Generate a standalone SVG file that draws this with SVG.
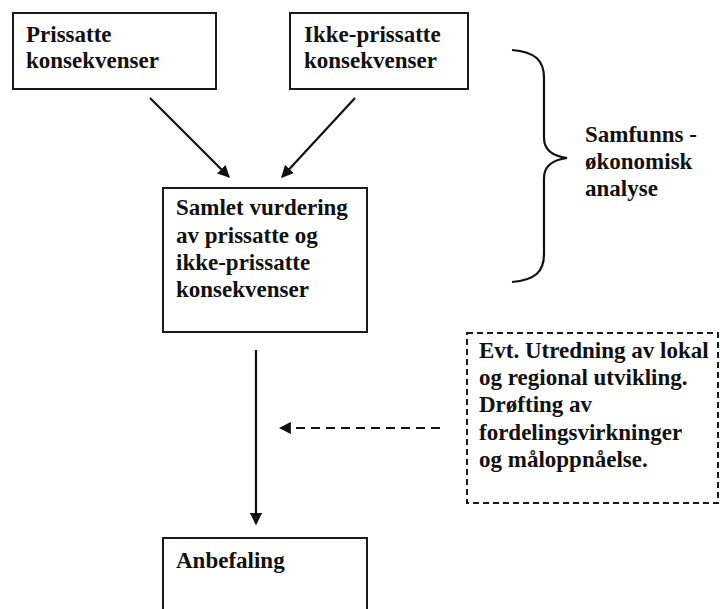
<svg xmlns="http://www.w3.org/2000/svg" width="720" height="609" viewBox="0 0 720 609">
<defs>
<style>
.box{fill:#fff;stroke:#1a1a1a;stroke-width:2}
.dbox{fill:#fff;stroke:#1a1a1a;stroke-width:2;stroke-dasharray:6,4}
.t{font-family:"Liberation Serif","Times New Roman",serif;font-weight:bold;font-size:23px;fill:#111}
.ln{stroke:#111;stroke-width:2.2;fill:none}
.dl{stroke:#111;stroke-width:2.2;fill:none;stroke-dasharray:9,6}
</style>
<marker id="ah" viewBox="0 0 10 10" refX="9" refY="5" markerWidth="5.5" markerHeight="5.5" orient="auto">
<path d="M0,0 L10,5 L0,10 z" fill="#111"/>
</marker>
</defs>
<rect width="720" height="609" fill="#fff"/>
<g id="n1"><rect class="box" x="13" y="13" width="203" height="76"/>
<text class="t" x="26" y="42">Prissatte</text><text class="t" x="26" y="68">konsekvenser</text></g>
<g id="n2"><rect class="box" x="290" y="13" width="178" height="76"/>
<text class="t" x="304" y="42">Ikke-prissatte</text><text class="t" x="304" y="68">konsekvenser</text></g>
<g id="n3"><rect class="box" x="163" y="188" width="204" height="144"/>
<text class="t" x="176" y="215">Samlet vurdering</text><text class="t" x="176" y="243">av prissatte og</text><text class="t" x="176" y="270">ikke-prissatte</text><text class="t" x="176" y="297">konsekvenser</text></g>
<g id="n4"><rect class="box" x="163" y="538" width="204" height="90"/>
<text class="t" x="176" y="568">Anbefaling</text></g>
<g id="n5"><rect class="dbox" x="467" y="333" width="251" height="170"/>
<text class="t" x="479" y="358">Evt. Utredning av lokal</text><text class="t" x="479" y="385">og regional utvikling.</text><text class="t" x="479" y="412">Drøfting av</text><text class="t" x="479" y="440">fordelingsvirkninger</text><text class="t" x="479" y="467">og måloppnåelse.</text></g>
<g id="brace"><path class="ln" stroke-width="1.6" d="M512,50 C535,52 544,60 544,78 L544,138 C544,150 552,156 567,158 C552,160 544,166 544,178 L544,254 C544,272 535,280 512,282"/>
<text class="t" x="585" y="142">Samfunns -</text><text class="t" x="585" y="169">økonomisk</text><text class="t" x="585" y="196">analyse</text></g>
<g id="connectors">
<line class="ln" x1="150" y1="98" x2="229" y2="177" marker-end="url(#ah)"/>
<line class="ln" x1="355" y1="98" x2="282" y2="177" marker-end="url(#ah)"/>
<line class="ln" x1="256" y1="350" x2="256" y2="524" marker-end="url(#ah)"/>
<line class="dl" x1="440" y1="428" x2="280" y2="428" marker-end="url(#ah)"/>
</g>
</svg>
